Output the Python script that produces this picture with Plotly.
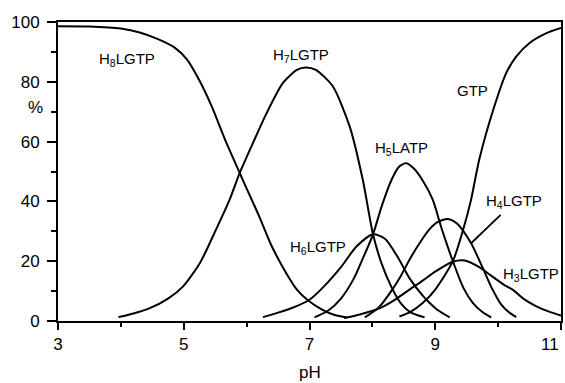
import plotly.graph_objects as go

# ---- data (pH, % species) ----
h8_ph = [3.0, 3.5, 4.0, 4.3, 4.6, 4.85, 5.05, 5.26, 5.45, 5.65, 5.89, 6.05, 6.21, 6.4, 6.63, 6.8, 6.97, 7.2, 7.4, 7.6]
h8_pc = [98.6, 98.5, 97.8, 96.5, 94.2, 91.5, 87.5, 80, 71.5, 61, 49.5, 42, 34.5, 25, 16, 10.5, 7, 3.8, 2, 1.2]

h7_ph = [3.96, 4.2, 4.46, 4.75, 4.99, 5.26, 5.5, 5.73, 5.89, 6.1, 6.32, 6.58, 6.8, 6.94, 7.1, 7.37, 7.64, 7.85, 8.01, 8.15, 8.3, 8.45, 8.6, 8.83]
h7_pc = [1.3, 2.5, 4.3, 7.5, 11.6, 19.5, 30, 40.6, 49.5, 59.5, 69.6, 79.7, 84, 84.8, 84, 78.5, 65, 47, 29, 19, 11.5, 6, 3, 1.2]

h6_ph = [6.26, 6.5, 6.75, 7.0, 7.25, 7.5, 7.75, 8.01, 8.2, 8.4, 8.6, 8.8, 8.9, 9.05, 9.23]
h6_pc = [1.3, 2.8, 4.6, 7.1, 12, 18, 25, 29, 27.5, 21.5, 14, 8.5, 6.3, 3.5, 1.2]

h5_ph = [7.08, 7.3, 7.5, 7.7, 7.85, 8.01, 8.15, 8.3, 8.42, 8.54, 8.66, 8.8, 8.96, 9.1, 9.28, 9.45, 9.6, 9.75, 9.89]
h5_pc = [1.2, 3.5, 7.5, 14, 21, 29, 38.5, 47, 51.5, 52.8, 51, 47, 40.6, 31, 20, 11, 6, 3, 1.2]

h4_ph = [7.88, 8.1, 8.3, 8.45, 8.59, 8.75, 8.9, 9.05, 9.2, 9.35, 9.57, 9.75, 9.9, 10.05, 10.18, 10.29]
h4_pc = [1.2, 4.5, 10, 15, 20.5, 26, 30.5, 33.2, 34.1, 32.5, 26, 18, 11, 5.5, 2.8, 1.3]

h3_ph = [7.55, 7.8, 8.12, 8.35, 8.59, 8.8, 9.0, 9.28, 9.47, 9.7, 9.9, 10.1, 10.23, 10.4, 10.6, 10.8, 11.0]
h3_pc = [1.0, 2.2, 4.3, 7, 10.5, 13.5, 16.5, 19.8, 20.2, 18, 15, 12, 10.5, 7.5, 5, 3.2, 1.8]

gtp_ph = [8.43, 8.6, 8.8, 9.0, 9.28, 9.45, 9.57, 9.7, 9.94, 10.13, 10.29, 10.5, 10.77, 11.0]
gtp_pc = [1.5, 3, 6, 10.5, 20, 31, 40.6, 54, 71.8, 83, 88.5, 93, 96.3, 98]

label_text = ["H<sub>8</sub>LGTP", "H<sub>7</sub>LGTP", "H<sub>6</sub>LGTP", "H<sub>5</sub>LATP",
              "H<sub>4</sub>LGTP", "H<sub>3</sub>LGTP", "GTP"]
label_x = [4.1, 6.87, 7.13, 8.47, 10.26, 10.52, 9.59]
label_y = [87.4, 88.9, 24.7, 57.6, 39.9, 15.5, 77.0]

x_ticks = [3, 5, 7, 9, 11]
y_ticks = [0, 20, 40, 60, 80, 100]

FONT = "Liberation Sans, Arial, sans-serif"

fig = go.Figure()
for xs, ys in [(h8_ph, h8_pc), (h7_ph, h7_pc), (h6_ph, h6_pc), (h5_ph, h5_pc),
               (h4_ph, h4_pc), (h3_ph, h3_pc), (gtp_ph, gtp_pc)]:
    fig.add_trace(go.Scatter(x=xs, y=ys, mode="lines",
                             line=dict(color="black", width=2, shape="spline", smoothing=0.7),
                             showlegend=False, hoverinfo="skip", cliponaxis=False))

for t, x, y in zip(label_text, label_x, label_y):
    fig.add_annotation(x=x, y=y, text=t, showarrow=False, xref="x", yref="y",
                       xanchor="center", yanchor="middle",
                       font=dict(family=FONT, size=15, color="black"))

# pointer line for H4LGTP
fig.add_shape(type="line", x0=10.04, y0=35.5, x1=9.57, y1=26.0, xref="x", yref="y",
              line=dict(color="black", width=1.8))

fig.add_annotation(text="%", xref="paper", yref="paper", x=-0.044, y=0.713,
                   xanchor="center", yanchor="middle",
                   showarrow=False, font=dict(family=FONT, size=17, color="black"))
fig.add_annotation(text="pH", xref="paper", yref="paper", x=0.5, y=-0.172,
                   xanchor="center", yanchor="middle",
                   showarrow=False, font=dict(family=FONT, size=17, color="black"))
# last x tick label, nudged inward so it stays inside the window as in the reference
fig.add_annotation(text=str(x_ticks[-1]), xref="paper", yref="paper", x=1.0, y=-0.079,
                   xanchor="right", yanchor="middle",
                   showarrow=False, font=dict(family=FONT, size=17, color="black"))

axis_common = dict(showline=True, linecolor="black", linewidth=2, mirror=True,
                   showgrid=False, zeroline=False, ticks="outside", tickcolor="black",
                   tickwidth=2, automargin=False, ticklabeloverflow="allow",
                   tickfont=dict(family=FONT, size=17, color="black"))

fig.update_xaxes(range=[3, 11], tickvals=x_ticks,
                 ticktext=[str(v) for v in x_ticks[:-1]] + [""],
                 ticklen=7,
                 minor=dict(dtick=1, tick0=3, ticks="outside", ticklen=4, tickwidth=2, tickcolor="black"),
                 **axis_common)
fig.update_yaxes(range=[0, 100], tickvals=y_ticks, ticktext=[str(v) for v in y_ticks],
                 ticklen=9, ticklabelstandoff=4,
                 minor=dict(dtick=10, tick0=0, ticks="outside", ticklen=5, tickwidth=2, tickcolor="black"),
                 **axis_common)

fig.update_layout(width=565, height=383, margin=dict(l=58, r=4, t=22, b=62, autoexpand=False),
                  plot_bgcolor="white", paper_bgcolor="white",
                  font=dict(family=FONT, color="black"))

# remove the browser's default body margin so the figure fills the window exactly
fig.write_html("out.html", config={"displayModeBar": False},
               post_script="document.body.style.margin='0';document.body.style.overflow='hidden';")
